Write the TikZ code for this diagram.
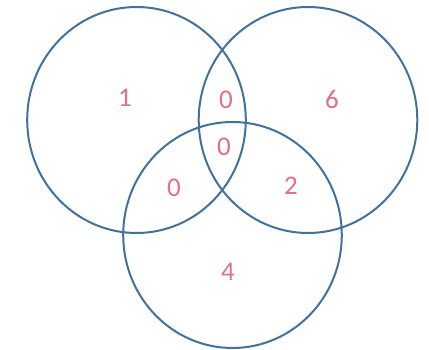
\documentclass[tikz,border=0pt]{standalone}
\usepackage{fontspec}
\setmainfont{Carlito}
\definecolor{ring}{HTML}{41719C}
\definecolor{num}{HTML}{E07088}
\begin{document}
\begin{tikzpicture}[x=1pt,y=1pt,
  ringstyle/.style={draw=ring,line width=2pt},
  lbl/.style={text=num,font=\fontsize{27}{30}\selectfont,inner sep=0pt}]
\useasboundingbox (0,0) rectangle (429,350);
\draw[ringstyle] (136.5,230) ellipse [x radius=109.3, y radius=113];
\draw[ringstyle] (308,230) ellipse [x radius=109.3, y radius=113];
\draw[ringstyle] (232.5,115) ellipse [x radius=109.3, y radius=113];
\node[lbl] (a) at (125,252) {1};
\node[lbl] (ab) at (226,250) {0};
\node[lbl] (b) at (332,251) {6};
\node[lbl] (abc) at (224,203) {0};
\node[lbl] (ac) at (174,162) {0};
\node[lbl] (bc) at (291,164) {2};
\node[lbl] (c) at (228,78) {4};
\end{tikzpicture}
\end{document}
